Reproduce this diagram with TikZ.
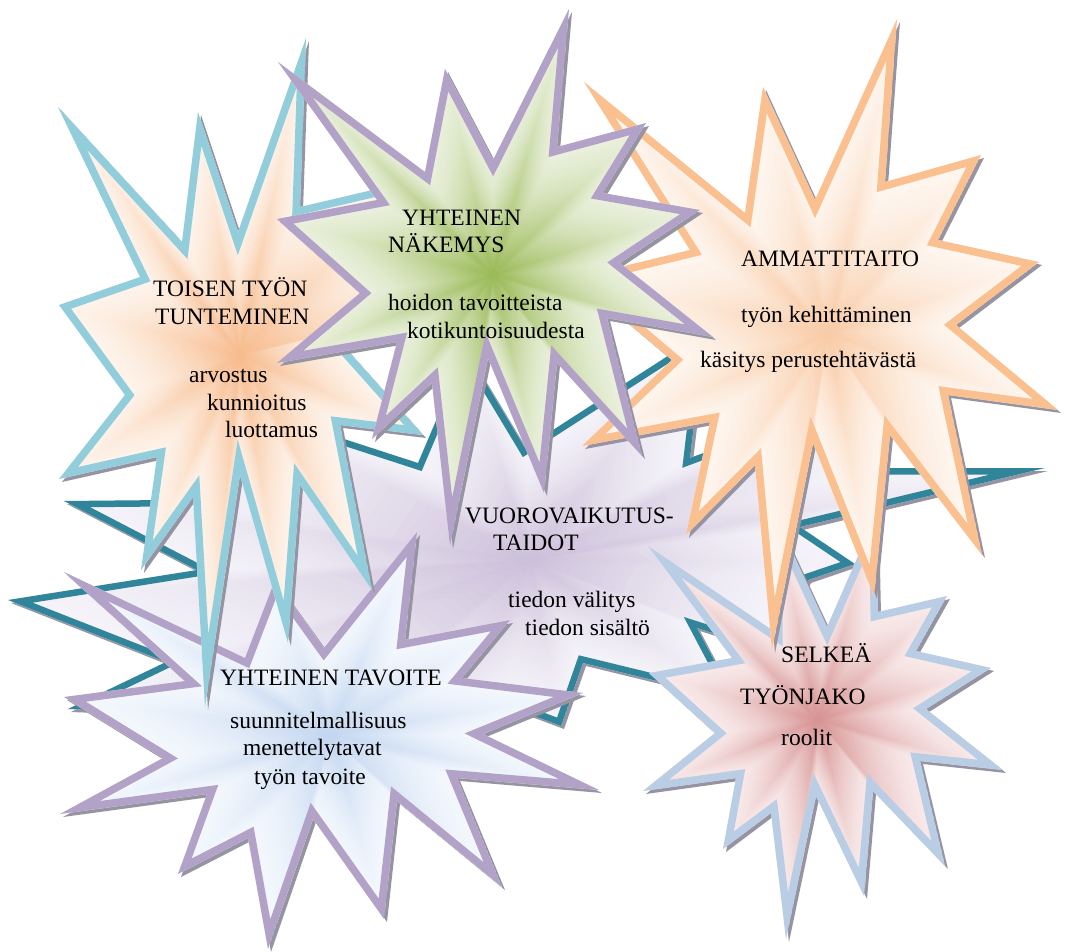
\documentclass[tikz,border=0pt]{standalone}
\usepackage{fontspec}
\setmainfont{Liberation Serif}

% outline colours
\definecolor{tealline}{RGB}{49,133,155}
\definecolor{aqualine}{RGB}{146,205,220}
\definecolor{purpleline}{RGB}{178,162,199}
\definecolor{orangeline}{RGB}{250,192,144}
\definecolor{blueline}{RGB}{185,205,229}
\definecolor{shadowgrey}{RGB}{150,148,162}
% fill colours (centre / rim)
\definecolor{tealin}{RGB}{204,192,218}
\definecolor{tealout}{RGB}{245,243,249}
\definecolor{bluein}{RGB}{196,215,240}
\definecolor{blueout}{RGB}{244,248,253}
\definecolor{peachin}{RGB}{247,188,142}
\definecolor{peachout}{RGB}{254,244,236}
\definecolor{pinkin}{RGB}{216,148,148}
\definecolor{pinkout}{RGB}{249,235,235}
\definecolor{apricotin}{RGB}{249,204,168}
\definecolor{apricotout}{RGB}{254,246,239}
\definecolor{greenin}{RGB}{155,187,89}
\definecolor{greenout}{RGB}{235,241,222}

% star outlines
\def\shapeTeal{(1045,468) -- (800,527) -- (855,564) -- (808,580) -- (772,652) -- (697,628) -- (735,700) -- (583,663) -- (561,726) -- (505,705) -- (430,760) -- (370,715) -- (280,770) -- (220,715) -- (68,709) -- (166,662) -- (8,600) -- (197,570) -- (64,501) -- (165,500) -- (230,402) -- (418,463) -- (466,350) -- (525,448) -- (705,332) -- (690,458) -- (900,380) -- (870,468) -- cycle}
\def\shapeGoal{(64,572) -- (245,658) -- (275,580) -- (324,648) -- (417,532) -- (405,640) -- (510,620) -- (462,678) -- (583,693) -- (483,734) -- (599,790) -- (457,778) -- (502,887) -- (397,801) -- (384,919) -- (313,819) -- (268,949) -- (248,838) -- (178,874) -- (207,794) -- (60,814) -- (163,758) -- (64,697) -- (185,681) -- cycle}
\def\shapeKnow{(58,107) -- (182,242) -- (198,112) -- (238,232) -- (306,38) -- (300,207) -- (415,180) -- (395,255) -- (460,300) -- (333,334) -- (423,435) -- (340,425) -- (372,590) -- (300,485) -- (288,643) -- (240,475) -- (205,707) -- (193,497) -- (141,570) -- (157,457) -- (59,479) -- (125,395) -- (59,305) -- (140,277) -- cycle}
\def\shapeRole{(648,546) -- (775,632) -- (775,515) -- (827,627) -- (876,515) -- (878,612) -- (947,596) -- (916,651) -- (991,668) -- (926,709) -- (1003,770) -- (920,761) -- (945,866) -- (873,791) -- (864,896) -- (816,796) -- (786,939) -- (771,813) -- (723,849) -- (736,778) -- (643,791) -- (715,733) -- (649,673) -- (732,658) -- cycle}
\def\shapeSkill{(584,82) -- (745,213) -- (763,87) -- (815,200) -- (897,19) -- (885,182) -- (981,155) -- (938,240) -- (1039,262) -- (956,325) -- (1058,410) -- (948,395) -- (982,555) -- (890,435) -- (874,596) -- (813,443) -- (772,650) -- (755,465) -- (686,535) -- (710,422) -- (582,446) -- (672,360) -- (575,278) -- (690,250) -- cycle}
\def\shapeView{(278,62) -- (425,172) -- (445,69) -- (493,160) -- (569,9) -- (557,147) -- (646,123) -- (603,193) -- (700,210) -- (620,263) -- (713,337) -- (607,318) -- (642,456) -- (557,363) -- (544,493) -- (488,358) -- (450,546) -- (432,383) -- (372,439) -- (397,342) -- (277,363) -- (360,293) -- (277,219) -- (377,200) -- cycle}

% #1 outline, #2 #3 gradient centre, #4 centre colour, #5 rim colour, #6 line colour
% the outline is stroked inside the shape only, so the points stay sharp
\newcommand\starburst[7][15pt]{%
  \fill[shadowgrey, shift={(3,3)}] #2;
  \begin{scope}
    \clip #2;
    \foreach \k in {0,...,31}{%
      \pgfmathsetmacro\gs{1-\k/32}%
      \pgfmathsetmacro\gp{100*(\k/31)*sqrt(\k/31)}%
      \fill[#5!\gp!#6, scale around={\gs:(#3,#4)}] #2;
    }
    \draw[line width=#1, line join=miter, draw=#7] #2;
  \end{scope}
}

\begin{document}
\begin{tikzpicture}[x=1pt, y=-1pt,
  txt/.style={font=\fontsize{23.5}{28}\selectfont, inner sep=0pt, anchor=base west, text=black}]
\useasboundingbox (0,0) rectangle (1066,952);
\fill[white] (0,0) rectangle (1066,952);

\starburst[13pt]{\shapeTeal}{530}{560}{tealin}{tealout}{tealline}
\starburst{\shapeGoal}{330}{735}{bluein}{blueout}{purpleline}
\starburst{\shapeKnow}{240}{355}{peachin}{peachout}{aqualine}
\starburst{\shapeRole}{818}{720}{pinkin}{pinkout}{blueline}
\starburst{\shapeSkill}{828}{334}{apricotin}{apricotout}{orangeline}
\starburst{\shapeView}{493}{275}{greenin}{greenout}{purpleline}

% labels
\node[txt] (k1) at (153,297) {TOISEN TYÖN};
\node[txt] (k2) at (155,324) {TUNTEMINEN};
\node[txt] (k3) at (189,382) {arvostus};
\node[txt] (k4) at (207,410) {kunnioitus};
\node[txt] (k5) at (225,437) {luottamus};

\node[txt] (v1) at (402,226) {YHTEINEN};
\node[txt] (v2) at (388,253) {NÄKEMYS};
\node[txt] (v3) at (388,310) {hoidon tavoitteista};
\node[txt] (v4) at (407,338) {kotikuntoisuudesta};

\node[txt] (s1) at (741,267) {AMMATTITAITO};
\node[txt] (s2) at (741,323) {työn kehittäminen};
\node[txt] (s3) at (700,367) {käsitys perustehtävästä};

\node[txt] (t1) at (465,523) {VUOROVAIKUTUS-};
\node[txt] (t2) at (493,550) {TAIDOT};
\node[txt] (t3) at (508,607) {tiedon välitys};
\node[txt] (t4) at (525,635) {tiedon sisältö};

\node[txt] (g1) at (220,685) {YHTEINEN TAVOITE};
\node[txt] (g2) at (230,728) {suunnitelmallisuus};
\node[txt] (g3) at (243,755) {menettelytavat};
\node[txt] (g4) at (254,784) {työn tavoite};

\node[txt] (r1) at (781,662) {SELKEÄ};
\node[txt] (r2) at (740,704) {TYÖNJAKO};
\node[txt] (r3) at (781,745) {roolit};
\end{tikzpicture}
\end{document}
